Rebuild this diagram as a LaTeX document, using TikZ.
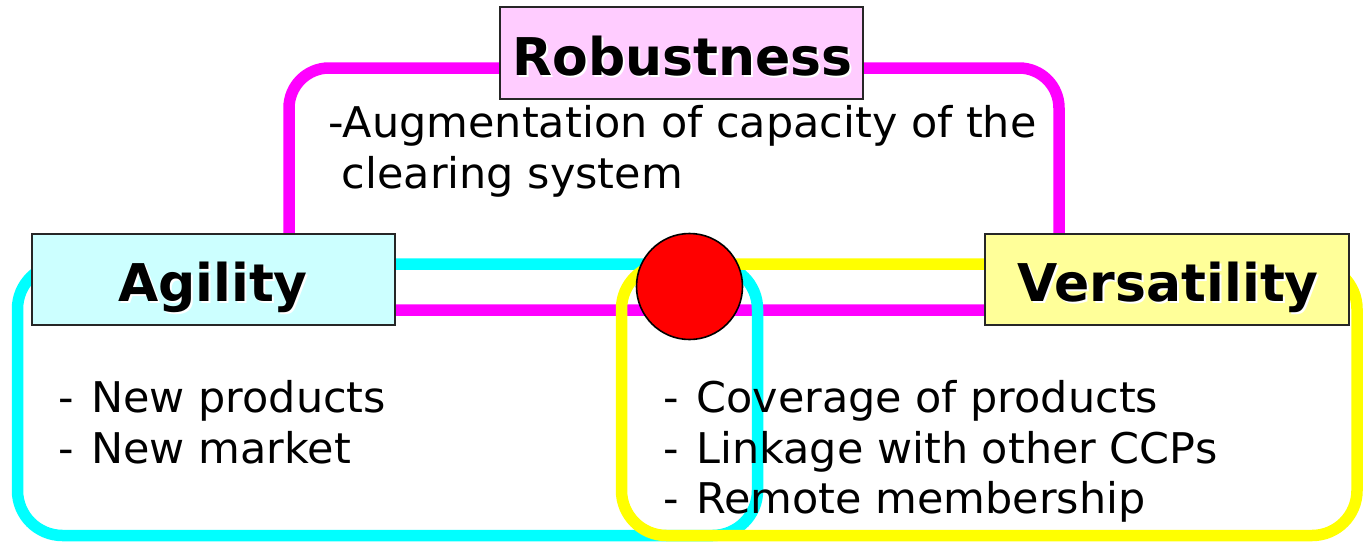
\documentclass[tikz,border=0pt]{standalone}
\usepackage{fontspec}
\setmainfont{DejaVu Sans}
\newfontfamily\bodyfont[FakeStretch=1.015]{DejaVu Sans}
\definecolor{mag}{HTML}{FF00FF}
\definecolor{cyn}{HTML}{00FFFF}
\definecolor{yel}{HTML}{FFFF00}
\definecolor{robfill}{HTML}{FFCCFF}
\definecolor{agifill}{HTML}{CCFFFF}
\definecolor{verfill}{HTML}{FFFF99}
\begin{document}
\begin{tikzpicture}[x=1pt,y=-1pt,
  loop/.style={line width=11.5pt},
  titlebox/.style={draw=black!85, line width=1.6pt, inner sep=0pt},
  titletext/.style={inner sep=0pt, anchor=base, font=\fontsize{52}{60}\selectfont\bfseries},
  shadowtext/.style={titletext, text=white},
  bodytext/.style={inner sep=0pt, anchor=base west, font=\bodyfont\fontsize{42.3}{51}\selectfont},
  hub/.style={circle, draw=black, line width=1.6pt, fill=red, minimum size=106pt, inner sep=0pt}]
\useasboundingbox[fill=white] (0,0) rectangle (1364,541);
% coordinates of the three loops
\coordinate (mTL) at (289,68);   \coordinate (mBR) at (1059,310);
\coordinate (cTL) at (17.5,264); \coordinate (cBR) at (757.5,535.5);
\coordinate (yTL) at (621.5,264);\coordinate (yBR) at (1357,535.5);
% loops
\draw[loop, mag, rounded corners=40pt] (mTL) rectangle (mBR);
\draw[loop, cyn, rounded corners=45pt] (cTL) rectangle (cBR);
\draw[loop, yel, rounded corners=45pt] (yTL) rectangle (yBR);
% title boxes
\node[titlebox, fill=robfill, minimum width=363pt, minimum height=92pt] (rob) at (681.5,53) {};
\node[titlebox, fill=agifill, minimum width=363pt, minimum height=91pt] (agi) at (213.5,279.5) {};
\node[titlebox, fill=verfill, minimum width=364pt, minimum height=91pt] (ver) at (1167,279.5) {};
% titles with white shadow
\node[shadowtext] (robS) at (684.5,77) {Robustness};
\node[titletext] (robT) at (682.5,75) {Robustness};
\node[shadowtext] (agiS) at (215,303) {Agility};
\node[titletext] (agiT) at (213,301) {Agility};
\node[shadowtext] (verS) at (1170,303) {Versatility};
\node[titletext] (verT) at (1168,301) {Versatility};
% hub
\node[hub] (hubc) at (689.5,286.5) {};
% body texts
\node[bodytext] (r1) at (328,137) {-Augmentation of capacity of the};
\node[bodytext] (r2) at (328,188) {\ clearing system};
\node[bodytext] (a1) at (58,412) {-\hspace{4pt} New products};
\node[bodytext] (a2) at (58,463) {-\hspace{4pt} New market};
\node[bodytext] (v1) at (663,412) {-\hspace{4pt} Coverage of products};
\node[bodytext] (v2) at (663,463) {-\hspace{4pt} Linkage with other CCPs};
\node[bodytext] (v3) at (663,513) {-\hspace{4pt} Remote membership};
\end{tikzpicture}
\end{document}
